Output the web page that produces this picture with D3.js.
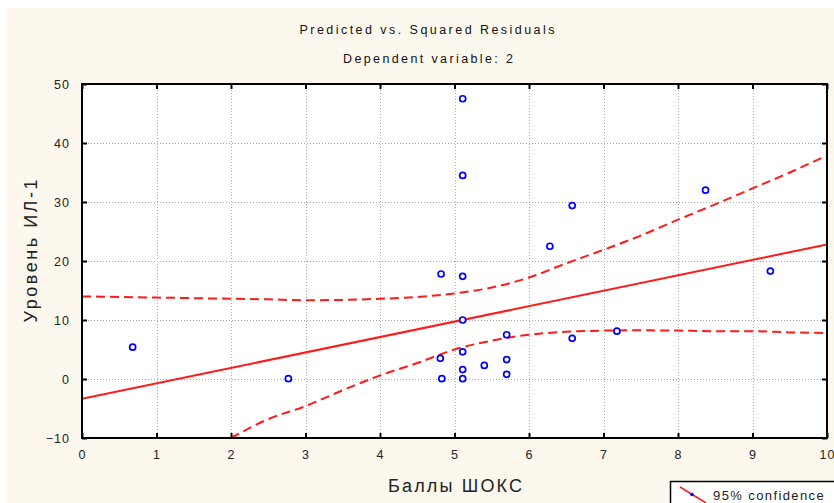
<!DOCTYPE html>
<html><head><meta charset="utf-8">
<script src="https://cdn.jsdelivr.net/npm/d3@7"></script>
<style>
html,body{margin:0;padding:0;background:#fff;}
svg{display:block;}
text{font-family:"Liberation Sans",Arial,sans-serif;}
</style></head>
<body>
<svg id="chart" width="834" height="503"></svg>
<script>
// ---- data ----
const titleLines = ["Predicted vs. Squared Residuals", "Dependent variable: 2"];
const xLabel = "Баллы ШОКС";
const yLabel = "Уровень ИЛ-1";
const legendLabel = "95% confidence";
const xTicks = [0,1,2,3,4,5,6,7,8,9,10];
const yTicks = [-10,0,10,20,30,40,50];
const pointX = [0.68, 2.77, 4.82, 4.81, 4.83, 5.11, 5.11, 5.11, 5.11, 5.11, 5.11, 5.11, 5.40, 5.70, 5.70, 5.70, 6.28, 6.58, 6.58, 7.18, 8.37, 9.24];
const pointY = [5.4, 0.05, 17.8, 3.5, 0.05, 47.5, 34.5, 17.4, 10.0, 4.6, 1.6, 0.05, 2.3, 7.5, 3.3, 0.8, 22.5, 29.4, 6.9, 8.1, 32.0, 18.3];
const fitX = [0, 10];
const fitY = [-3.35, 22.8];
const upperX = [0,0.5,1,1.5,2,2.5,3,3.5,4,4.5,5,5.5,6,6.5,7,7.5,8,8.5,9,9.5,10];
const upperY = [14.0,13.9,13.8,13.7,13.6,13.5,13.35,13.4,13.6,13.9,14.5,15.5,17.2,19.6,21.9,24.3,27.0,29.6,32.3,35.0,37.9];
const lowerX = [2,2.5,3,3.5,4,4.5,5,5.5,6,6.5,7,7.5,8,8.5,9,9.5,10];
const lowerY = [-10,-6.8,-4.6,-1.9,0.6,2.7,5.0,6.5,7.5,8.0,8.2,8.25,8.2,8.1,8.1,7.9,7.8];

// ---- layout ----
const svg = d3.select("#chart");
const L = 82, R = 827, T = 84, B = 438;
const x = d3.scaleLinear().domain([0,10]).range([L,R]);
const y = d3.scaleLinear().domain([-10,50]).range([B,T]);

// backgrounds
svg.append("rect").attr("x",7).attr("y",8).attr("width",834).attr("height",503).attr("fill","#fdf8ee");
svg.append("rect").attr("x",L).attr("y",T).attr("width",R-L).attr("height",B-T).attr("fill","#fff");

// grid
const grid = svg.append("g").attr("stroke","#a8a8a8").attr("stroke-width",1).attr("stroke-dasharray","1,2");
grid.selectAll("line.v").data(xTicks.filter(d=>d>0&&d<10)).join("line").attr("class","v")
  .attr("x1",d=>Math.round(x(d))+0.5).attr("x2",d=>Math.round(x(d))+0.5).attr("y1",T).attr("y2",B);
grid.selectAll("line.h").data(yTicks.filter(d=>d>-10&&d<50)).join("line").attr("class","h")
  .attr("y1",d=>Math.round(y(d))+0.5).attr("y2",d=>Math.round(y(d))+0.5).attr("x1",L).attr("x2",R);

// clip
svg.append("clipPath").attr("id","clip").append("rect").attr("x",L).attr("y",T).attr("width",R-L).attr("height",B-T);
const plot = svg.append("g").attr("clip-path","url(#clip)");

const line = d3.line().x(d=>x(d[0])).y(d=>y(d[1])).curve(d3.curveMonotoneX);
plot.append("path").datum(fitX.map((v,i)=>[v,fitY[i]])).attr("d",line)
  .attr("fill","none").attr("stroke","#ff1a1a").attr("stroke-width",2);
plot.append("path").datum(upperX.map((v,i)=>[v,upperY[i]])).attr("d",line)
  .attr("fill","none").attr("stroke","#ff1a1a").attr("stroke-width",2).attr("stroke-dasharray","9,5");
plot.append("path").datum(lowerX.map((v,i)=>[v,lowerY[i]])).attr("d",line)
  .attr("fill","none").attr("stroke","#ff1a1a").attr("stroke-width",2).attr("stroke-dasharray","9,5");

// points
plot.selectAll("circle.pt").data(pointX.map((v,i)=>[v,pointY[i]])).join("circle").attr("class","pt")
  .attr("cx",d=>x(d[0])).attr("cy",d=>y(d[1])).attr("r",3)
  .attr("fill","#fff").attr("stroke","#0000ff").attr("stroke-width",1.7);

// axes (ticks inward on all sides)
const ax = svg.append("g");
ax.append("g").attr("transform",`translate(0,${B})`)
  .call(d3.axisBottom(x).tickValues(xTicks).tickSize(-5).tickPadding(12).tickFormat(d3.format("d")));
ax.append("g").attr("transform",`translate(0,${T})`)
  .call(d3.axisTop(x).tickValues(xTicks).tickSize(-5).tickFormat(""));
ax.append("g").attr("transform",`translate(${L},0)`)
  .call(d3.axisLeft(y).tickValues(yTicks).tickSize(-5).tickPadding(12).tickFormat(d3.format("d")));
ax.append("g").attr("transform",`translate(${R},0)`)
  .call(d3.axisRight(y).tickValues(yTicks).tickSize(-5).tickFormat(""));
ax.selectAll(".domain").remove();
ax.selectAll(".tick line").attr("stroke","#000").attr("stroke-width",2);
ax.selectAll(".tick text").attr("font-size",12.5).attr("fill","#222").attr("letter-spacing","1px")
  .attr("font-family","'Liberation Sans',Arial,sans-serif");
svg.append("rect").attr("x",L).attr("y",T).attr("width",R-L).attr("height",B-T)
  .attr("fill","none").attr("stroke","#000").attr("stroke-width",2);

// titles
svg.append("text").attr("x",427).attr("y",34).attr("text-anchor","middle").attr("font-size",12.5)
  .attr("fill","#111").attr("textLength",255).attr("lengthAdjust","spacing").text(titleLines[0]);
svg.append("text").attr("x",428).attr("y",63).attr("text-anchor","middle").attr("font-size",12.5)
  .attr("fill","#111").attr("textLength",170).attr("lengthAdjust","spacing").text(titleLines[1]);
svg.append("text").attr("x",455).attr("y",492).attr("text-anchor","middle").attr("font-size",18)
  .attr("fill","#222").attr("textLength",134).attr("lengthAdjust","spacing").text(xLabel);
svg.append("text").attr("transform","translate(37,251) rotate(-90)").attr("text-anchor","middle")
  .attr("font-size",18).attr("fill","#222").attr("textLength",143).attr("lengthAdjust","spacing").text(yLabel);

// legend (partially visible)
const lg = svg.append("g");
lg.append("rect").attr("x",670.5).attr("y",481.5).attr("width",200).attr("height",40)
  .attr("fill","#fff").attr("stroke","#000").attr("stroke-width",1.5);
lg.append("line").attr("x1",680).attr("y1",487).attr("x2",706).attr("y2",503)
  .attr("stroke","#ff1a1a").attr("stroke-width",1.5);
lg.append("circle").attr("cx",692).attr("cy",494.5).attr("r",1.8).attr("fill","#0000ff");
lg.append("text").attr("x",713).attr("y",500).attr("font-size",13).attr("fill","#222")
  .attr("letter-spacing","1.4px").text(legendLabel);
</script>
</body></html>
